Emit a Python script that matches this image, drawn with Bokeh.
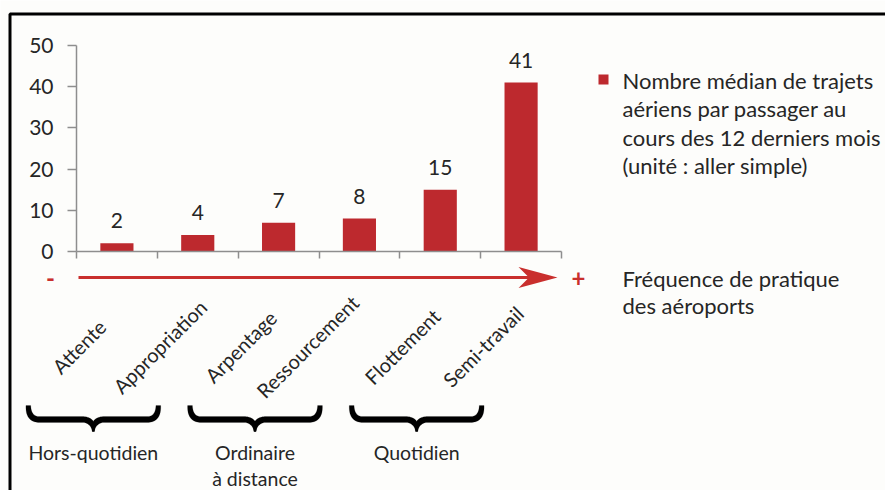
import numpy as np
from bokeh.plotting import figure
from bokeh.models import (Range1d, LinearAxis, FixedTicker, ColumnDataSource, LabelSet, Label,
                          PolyAnnotation, BoxAnnotation)
from bokeh.core.properties import value
from bokeh.embed import file_html
from bokeh.resources import INLINE

# ---------------- data ----------------
categories = ["Attente", "Appropriation", "Arpentage", "Ressourcement", "Flottement", "Semi-travail"]
values = [2, 4, 7, 8, 15, 41]
y_ticks = [0, 10, 20, 30, 40, 50]
groups = ["Hors-quotidien", "Ordinaire\nà distance", "Quotidien"]
group_members = [[0, 1], [2, 3], [4, 5]]
legend_label = "Nombre médian de trajets\naériens par passager au\ncours des 12 derniers mois\n(unité : aller simple)"
axis_caption = "Fréquence de pratique\ndes aéroports"

# ---------------- layout (canvas pixels) ----------------
FONT = "Lato"
TXT = "#262626"
BAR = "#BD292E"
RED = "#C92F2D"
BG = "#FDFDFB"
W, H = 885, 490
AX_L, AX_R, AX_T, AX_B = 76, 561, 45, 251   # plot area edges
n = len(categories)
px_per_x = (AX_R - AX_L) / n
px_per_y = (AX_B - AX_T) / 50.0
label_shift_px = [-38, -38, -38, -52, -38, -38]   # horizontal placement of rotated labels

def fx(px):
    return -0.5 + (px - AX_L) / px_per_x

def fy(py):
    return (AX_B - py) / px_per_y

p = figure(width=W, height=H, x_range=Range1d(fx(0), fx(W)), y_range=Range1d(fy(H), fy(0)),
           output_backend="svg", toolbar_location=None, x_axis_type=None, y_axis_type=None,
           min_border=0)
p.outline_line_color = None
p.background_fill_color = BG
p.border_fill_color = BG

# axes (drawn at fixed positions inside the canvas)
yaxis = LinearAxis(ticker=FixedTicker(ticks=y_ticks), fixed_location=-0.5, bounds=(0, 50))
yaxis.axis_line_color = "#8E8E8E"
yaxis.axis_line_width = 1.5
yaxis.major_tick_line_color = "#8E8E8E"
yaxis.major_tick_line_width = 1.5
yaxis.major_tick_in = 0
yaxis.major_tick_out = 9
yaxis.minor_tick_line_color = None
yaxis.major_label_standoff = 14
yaxis.major_label_text_font = FONT
yaxis.major_label_text_font_size = "21px"
yaxis.major_label_text_color = TXT
p.add_layout(yaxis, "left")

bounds = [i - 0.5 for i in range(n + 1)]
xaxis = LinearAxis(ticker=FixedTicker(ticks=bounds), fixed_location=0, bounds=(-0.5, n - 0.5))
xaxis.axis_line_color = "#8E8E8E"
xaxis.axis_line_width = 1.5
xaxis.major_tick_line_color = "#8E8E8E"
xaxis.major_tick_line_width = 1.5
xaxis.major_tick_in = 0
xaxis.major_tick_out = 7
xaxis.minor_tick_line_color = None
xaxis.major_label_text_font_size = "0px"
xaxis.major_label_text_alpha = 0
p.add_layout(xaxis, "below")

# bars
xs = list(range(n))
src = ColumnDataSource(dict(x=xs, top=values, label=[str(v) for v in values]))
bars = p.vbar(x="x", top="top", width=0.41, source=src, fill_color=BAR, line_color=None)

p.add_layout(LabelSet(x="x", y="top", text="label", source=src, y_offset=15,
                      text_align="center", text_baseline="alphabetic",
                      text_font=value(FONT), text_font_size=value("21px"), text_color=TXT))

# rotated category labels
cat_src = ColumnDataSource(dict(x=[i + s / px_per_x for i, s in zip(xs, label_shift_px)],
                                y=[fy(346)] * n, text=categories))
p.add_layout(LabelSet(x="x", y="y", text="text", source=cat_src, angle=np.pi / 4,
                      text_align="center", text_baseline="middle",
                      text_font=value(FONT), text_font_size=value("20px"), text_color=TXT))

# arrow
arrow_px = [(78, 275.5), (527, 275.5), (518, 266.5), (557, 277), (518, 287.5), (527, 278.5), (78, 278.5)]
p.add_layout(PolyAnnotation(xs=[fx(a) for a, b in arrow_px], ys=[fy(b) for a, b in arrow_px],
                            fill_color=RED, fill_alpha=1, line_color=None))
p.add_layout(Label(x=fx(50), y=fy(277), text="-", text_align="center", text_baseline="middle",
                   text_font=FONT, text_font_size="24px", text_font_style="bold", text_color=RED))
p.add_layout(Label(x=fx(578), y=fy(277), text="+", text_align="center", text_baseline="middle",
                   text_font=FONT, text_font_size="24px", text_font_style="bold", text_color=RED))
p.add_layout(Label(x=fx(622), y=fy(264), text=axis_caption, text_align="left", text_baseline="top",
                   text_font=FONT, text_font_size="22px", text_color=TXT, text_line_height=1.02))

# braces + group labels
def brace_half(xa, xc, yt, ym, yb, r, w):
    s = np.sign(xc - xa)
    t = np.linspace(0, 1, 20)
    p0 = np.array([xa, yt]); c0 = np.array([xa, ym]); p1 = np.array([xa + s * r, ym])
    seg1 = ((1 - t) ** 2)[:, None] * p0 + (2 * (1 - t) * t)[:, None] * c0 + (t ** 2)[:, None] * p1
    p2 = np.array([xc - s * r, ym]); c1 = np.array([xc, ym]); p3 = np.array([xc, yb])
    seg2 = ((1 - t) ** 2)[:, None] * p2 + (2 * (1 - t) * t)[:, None] * c1 + (t ** 2)[:, None] * p3
    pts = np.vstack([seg1, seg2])
    d = np.gradient(pts, axis=0)
    d /= np.linalg.norm(d, axis=1)[:, None]
    nrm = np.stack([-d[:, 1], d[:, 0]], axis=1)
    k = len(pts)
    prof = np.concatenate([np.linspace(0.8, 1, 10), np.ones(k - 20), np.linspace(1, 0.35, 10)])
    a = pts + nrm * (w / 2) * prof[:, None]
    b = pts - nrm * (w / 2) * prof[:, None]
    return np.vstack([a, b[::-1]])

for g, members in zip(groups, group_members):
    mid_px = AX_L + px_per_x * (np.mean(members) + 0.5)
    cx = mid_px - 64
    for side in (-1, 1):
        poly = brace_half(cx + side * 65, cx, 405, 419, 431, 11, 6)
        p.add_layout(PolyAnnotation(xs=[fx(v) for v in poly[:, 0]], ys=[fy(v) for v in poly[:, 1]],
                                    fill_color="black", fill_alpha=1, line_color="black",
                                    line_width=0.5))
    p.add_layout(Label(x=fx(cx), y=fy(440), text=g, text_align="center", text_baseline="top",
                       text_font=FONT, text_font_size="19.5px", text_color=TXT, text_line_height=1.17))

# legend (square key + label)
p.add_layout(BoxAnnotation(left=fx(598), right=fx(608), top=fy(74), bottom=fy(84),
                           fill_color=BAR, fill_alpha=1, line_color=None))
p.add_layout(Label(x=fx(622), y=fy(66), text=legend_label, text_align="left", text_baseline="top",
                   text_font=FONT, text_font_size="22px", text_color=TXT, text_line_height=1.06))

# outer border
p.add_layout(BoxAnnotation(left=fx(9.5), right=fx(1200), top=fy(13.5), bottom=fy(1200),
                           fill_alpha=0, line_color="black", line_alpha=1, line_width=3))

open("out.html", "w").write(file_html(p, INLINE))
